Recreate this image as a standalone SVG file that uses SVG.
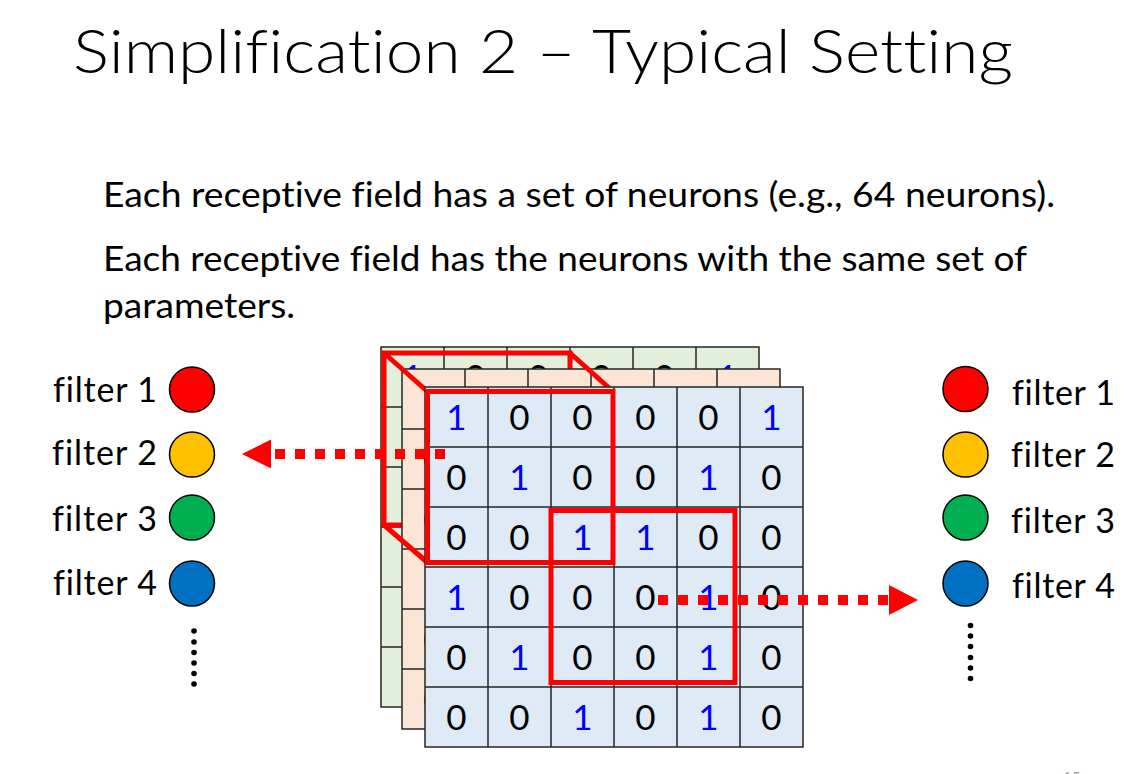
<svg xmlns="http://www.w3.org/2000/svg" xmlns:xlink="http://www.w3.org/1999/xlink" width="1142" height="774" viewBox="0 0 1142 774">
<style>
text{font-family:Lato,"Liberation Sans",sans-serif;fill:#000;font-variant-ligatures:none;font-feature-settings:"liga" 0,"clig" 0}
.title{font-size:62px;font-weight:300}
.body{font-size:35px}
.lbl{font-size:34px}
.d{font-size:35px;text-anchor:middle}
.b{fill:#0000FF}
.gl{fill:none;stroke:#262626;stroke-width:1.5}
.red{fill:none;stroke:#FF0000;stroke-width:5}
.dot{fill:none;stroke:#FF0000;stroke-width:10;stroke-dasharray:10 10}
.ah{fill:#FF0000}
.c{stroke:#000;stroke-width:1.5}
.vd{fill:#000}
</style>
<defs>
<g id="lines">
<rect x="0" y="0" width="378" height="360" class="gl"/>
<path class="gl" d="M63 0V360M126 0V360M189 0V360M252 0V360M315 0V360M0 60H378M0 120H378M0 180H378M0 240H378M0 300H378"/>
</g>
<g id="digits">
<text class="d b" x="31.5" y="43">1</text><text class="d" x="94.5" y="43">0</text><text class="d" x="157.5" y="43">0</text><text class="d" x="220.5" y="43">0</text><text class="d" x="283.5" y="43">0</text><text class="d b" x="346.5" y="43">1</text>
<text class="d" x="31.5" y="103">0</text><text class="d b" x="94.5" y="103">1</text><text class="d" x="157.5" y="103">0</text><text class="d" x="220.5" y="103">0</text><text class="d b" x="283.5" y="103">1</text><text class="d" x="346.5" y="103">0</text>
<text class="d" x="31.5" y="163">0</text><text class="d" x="94.5" y="163">0</text><text class="d b" x="157.5" y="163">1</text><text class="d b" x="220.5" y="163">1</text><text class="d" x="283.5" y="163">0</text><text class="d" x="346.5" y="163">0</text>
<text class="d b" x="31.5" y="223">1</text><text class="d" x="94.5" y="223">0</text><text class="d" x="157.5" y="223">0</text><text class="d" x="220.5" y="223">0</text><text class="d b" x="283.5" y="223">1</text><text class="d" x="346.5" y="223">0</text>
<text class="d" x="31.5" y="283">0</text><text class="d b" x="94.5" y="283">1</text><text class="d" x="157.5" y="283">0</text><text class="d" x="220.5" y="283">0</text><text class="d b" x="283.5" y="283">1</text><text class="d" x="346.5" y="283">0</text>
<text class="d" x="31.5" y="343">0</text><text class="d" x="94.5" y="343">0</text><text class="d b" x="157.5" y="343">1</text><text class="d" x="220.5" y="343">0</text><text class="d b" x="283.5" y="343">1</text><text class="d" x="346.5" y="343">0</text>
</g>
</defs>
<rect width="1142" height="774" fill="#fff"/>
<g id="title">
<text class="title" x="73" y="73" textLength="940" lengthAdjust="spacingAndGlyphs">Simplification 2 – Typical Setting</text>
</g>
<g id="bodytext">
<text class="body" x="103" y="207" textLength="952" lengthAdjust="spacingAndGlyphs">Each receptive field has a set of neurons (e.g., 64 neurons).</text>
<text class="body" x="103" y="271" textLength="924" lengthAdjust="spacingAndGlyphs">Each receptive field has the neurons with the same set of</text>
<text class="body" x="103" y="318" textLength="192" lengthAdjust="spacingAndGlyphs">parameters.</text>
</g>
<g id="grid-green" transform="translate(381,347)">
<rect width="378" height="360" fill="#E2EFDA"/>
<use xlink:href="#digits"/>
<use xlink:href="#lines"/>
<rect class="red" x="3" y="6" width="186" height="172"/>
</g>
<g id="grid-peach" transform="translate(402,369)">
<rect width="378" height="360" fill="#FBE5D6"/>
<use xlink:href="#digits"/>
<use xlink:href="#lines"/>
</g>
<g id="field-edges">
<path class="red" d="M384 353L427.5 391.5M570 353L613 391.5M384 525L427.5 562.5" stroke-width="4.5"/>
</g>
<g id="grid-front" transform="translate(425,387)">
<rect width="378" height="360" fill="#DEEBF7"/>
<use xlink:href="#digits"/>
<use xlink:href="#lines"/>
</g>
<g id="field-1">
<rect class="red" x="427.5" y="391.5" width="185.5" height="171"/>
</g>
<g id="field-2">
<rect class="red" x="551" y="510.5" width="184" height="172"/>
</g>
<g id="filters-left">
<text class="lbl" x="53" y="402" textLength="104" lengthAdjust="spacing">filter 1</text>
<circle class="c" cx="192" cy="389.5" r="22.5" fill="#FF0000"/>
<text class="lbl" x="52" y="465" textLength="105" lengthAdjust="spacing">filter 2</text>
<circle class="c" cx="192" cy="454.5" r="22.5" fill="#FFC000"/>
<text class="lbl" x="52" y="531" textLength="105" lengthAdjust="spacing">filter 3</text>
<circle class="c" cx="192" cy="517.5" r="22.5" fill="#00B050"/>
<text class="lbl" x="53" y="595" textLength="104" lengthAdjust="spacing">filter 4</text>
<circle class="c" cx="192" cy="583.5" r="22.5" fill="#0070C0"/>
<g class="vd"><circle cx="194" cy="631" r="2.8"/><circle cx="194" cy="642" r="2.8"/><circle cx="194" cy="652.5" r="2.8"/><circle cx="194" cy="663" r="2.8"/><circle cx="194" cy="673.5" r="2.8"/><circle cx="194" cy="684" r="2.8"/></g>
</g>
<g id="filters-right">
<circle class="c" cx="965.5" cy="389" r="22.5" fill="#FF0000"/>
<text class="lbl" x="1012" y="405" textLength="103" lengthAdjust="spacing">filter 1</text>
<circle class="c" cx="965.5" cy="454.5" r="22.5" fill="#FFC000"/>
<text class="lbl" x="1011" y="467" textLength="104" lengthAdjust="spacing">filter 2</text>
<circle class="c" cx="965.5" cy="517.5" r="22.5" fill="#00B050"/>
<text class="lbl" x="1011" y="533" textLength="104" lengthAdjust="spacing">filter 3</text>
<circle class="c" cx="965.5" cy="583.5" r="22.5" fill="#0070C0"/>
<text class="lbl" x="1012" y="598" textLength="103" lengthAdjust="spacing">filter 4</text>
<g class="vd"><circle cx="970.5" cy="625.5" r="2.8"/><circle cx="970.5" cy="636" r="2.8"/><circle cx="970.5" cy="646.5" r="2.8"/><circle cx="970.5" cy="657.5" r="2.8"/><circle cx="970.5" cy="668" r="2.8"/><circle cx="970.5" cy="678.5" r="2.8"/></g>
</g>
<g id="connectors">
<path class="dot" d="M275 454H445"/>
<polygon class="ah" points="242,454 271,439.5 271,468.5"/>
<path class="dot" d="M658 600H888"/>
<polygon class="ah" points="918,600 889,585 889,615"/>
</g>
<g id="page">
<text x="1063" y="783" font-size="15" style="fill:#9a9a9a">15</text>
</g>
</svg>
